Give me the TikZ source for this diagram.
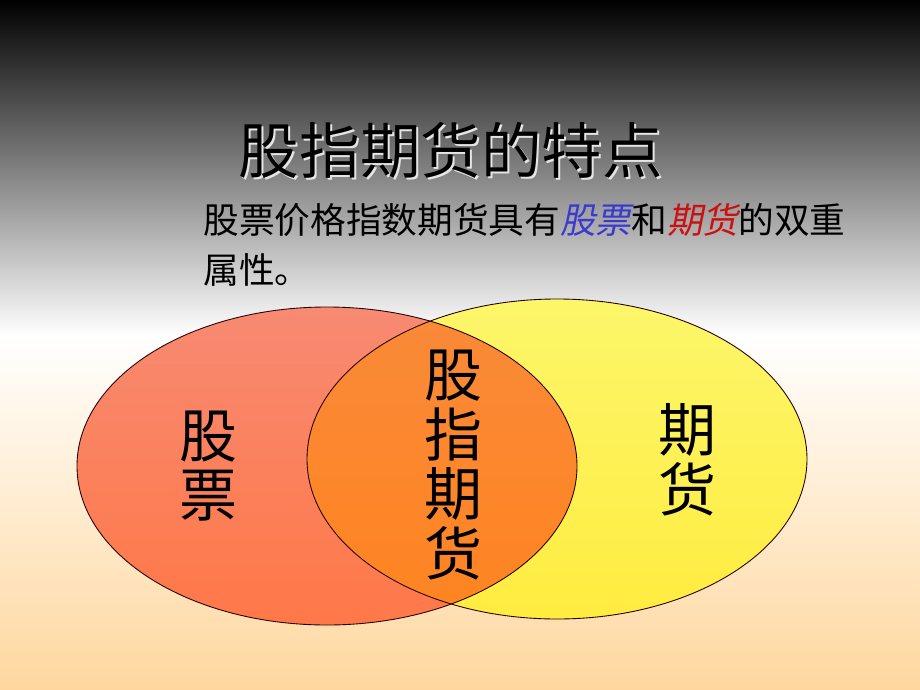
\documentclass[tikz,border=0pt]{standalone}
\usepackage{fontspec}
\setmainfont{Noto Sans CJK SC}
\newfontfamily\cjkslant[FakeSlant=0.2]{Noto Sans CJK SC}
\usetikzlibrary{positioning}
\definecolor{peach}{HTML}{FFD79E}
\definecolor{stockTop}{HTML}{F78A72}
\definecolor{stockBot}{HTML}{FF7848}
\definecolor{futTop}{HTML}{FCF66A}
\definecolor{futBot}{HTML}{FFEC40}
\definecolor{bothTop}{HTML}{F98A3A}
\definecolor{bothBot}{HTML}{FF8420}
\definecolor{stockBlue}{HTML}{3A3ACF}
\definecolor{futRed}{HTML}{CC1010}

\begin{document}
\begin{tikzpicture}[x=0.02cm,y=-0.02cm,
  outline/.style={draw=black!85!red, line width=.5pt},
  bigchar/.style={align=center, inner sep=0pt, font=\fontsize{33}{34}\selectfont}]
% Background
\shade[top color=black, bottom color=white] (0,0) rectangle (920,335);
\shade[top color=white, bottom color=peach] (0,335) rectangle (920,690);
\useasboundingbox (0,0) rectangle (920,690);
% Title
\node[text=white!80!gray, font=\fontsize{34.5}{40}\selectfont] at (453,152) {股指期货的特点};
\node[text=black, font=\fontsize{34.5}{40}\selectfont] (title) at (451,150) {股指期货的特点};
\node[anchor=north west, align=left, inner sep=0pt, font=\fontsize{20.3}{28.6}\selectfont] (intro) at (203,203)
  {股票价格指数期货具有{\cjkslant\color{stockBlue}股票}和{\cjkslant\color{futRed}期货}的双重\\属性。};
% Ellipses
\shade[top color=futTop, bottom color=futBot] (557,459) ellipse [x radius=250, y radius=160];
\shade[top color=stockTop, bottom color=stockBot] (327,466) ellipse [x radius=250, y radius=159];
\begin{scope}
\clip (327,466) ellipse [x radius=250, y radius=159];
\shade[top color=bothTop, bottom color=bothBot] (557,459) ellipse [x radius=250, y radius=160];
\end{scope}
\draw[outline] (557,459) ellipse [x radius=250, y radius=160];
\draw[outline] (327,466) ellipse [x radius=250, y radius=159];
% Labels
\node[bigchar] (stock) at (208,466) {股\\票};
\node[bigchar] (index) at (453,465) {股\\指\\期\\货};
\node[bigchar] (futures) at (687,460) {期\\货};
\end{tikzpicture}
\end{document}
